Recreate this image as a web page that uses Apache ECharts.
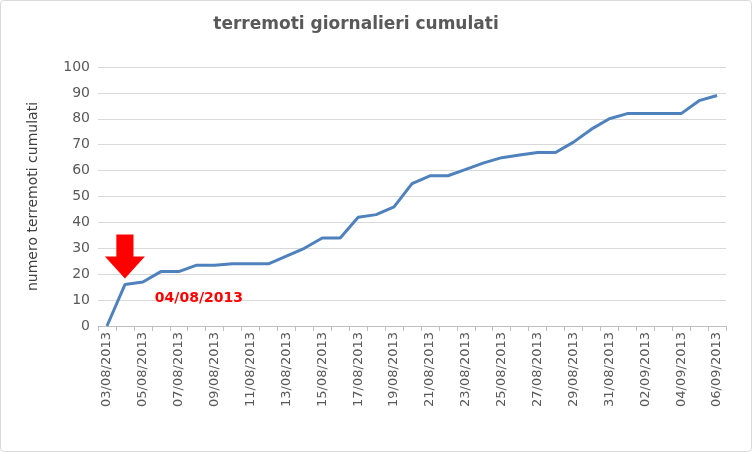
<!DOCTYPE html><html><head><meta charset="utf-8"><script src="https://cdn.jsdelivr.net/npm/echarts@6/dist/echarts.min.js"></script>
<style>body{margin:0}#c{width:750px;height:450px;border:1px solid #d9d9d9;border-radius:4px}</style></head><body><div id="c"></div><script>
const categories=["03/08/2013","04/08/2013","05/08/2013","06/08/2013","07/08/2013","08/08/2013","09/08/2013","10/08/2013","11/08/2013","12/08/2013","13/08/2013","14/08/2013","15/08/2013","16/08/2013","17/08/2013","18/08/2013","19/08/2013","20/08/2013","21/08/2013","22/08/2013","23/08/2013","24/08/2013","25/08/2013","26/08/2013","27/08/2013","28/08/2013","29/08/2013","30/08/2013","31/08/2013","01/09/2013","02/09/2013","03/09/2013","04/09/2013","05/09/2013","06/09/2013"];
const values=[0,16,17,21,21,23.5,23.5,24,24,24,27,30,34,34,42,43,46,55,58,58,60.5,63,65,66,67,67,71,76,80,82,82,82,82,87,89];
const yTicks=[0,10,20,30,40,50,60,70,80,90,100];
const c=echarts.init(document.getElementById('c'));
c.setOption({
title:{text:'terremoti giornalieri cumulati',left:350,top:10,textAlign:'center',textStyle:{fontFamily:'DejaVu Sans',fontSize:17,fontWeight:'bold',color:'#595959'}},
grid:{left:97,right:25,top:66,bottom:125,containLabel:false},
xAxis:{type:'category',data:categories,boundaryGap:true,axisLine:{lineStyle:{color:'#bfbfbf'}},axisTick:{show:true,interval:0,lineStyle:{color:'#bfbfbf'}},
axisLabel:{show:true,rotate:90,interval:1,hideOverlap:false,margin:6,fontFamily:'DejaVu Sans',fontSize:13,color:'#595959'}},
yAxis:{type:'value',min:yTicks[0],max:yTicks[yTicks.length-1],interval:10,name:'numero terremoti cumulati',nameLocation:'middle',nameGap:58,nameTextStyle:{fontFamily:'DejaVu Sans',fontSize:14,color:'#404040'},
axisLabel:{fontFamily:'DejaVu Sans',fontSize:14,color:'#595959'},splitLine:{lineStyle:{color:'#d9d9d9'}},axisLine:{show:false},axisTick:{show:false}},
series:[{type:'line',data:values,symbol:'none',lineStyle:{color:'#4f81bd',width:3},
markPoint:{silent:true,data:[{coord:[categories[1],values[1]],symbol:'path://M8,0 L20,0 L20,22 L28,22 L14,44 L0,22 L8,22 Z',symbolSize:[40,44],symbolOffset:[0,-28],itemStyle:{color:'#ff0000'},
label:{show:true,formatter:'04/08/2013',position:'inside',offset:[74,42],color:'#ff0000',fontFamily:'DejaVu Sans',fontSize:14,fontWeight:'bold'}}]}}]
});
</script></body></html>
